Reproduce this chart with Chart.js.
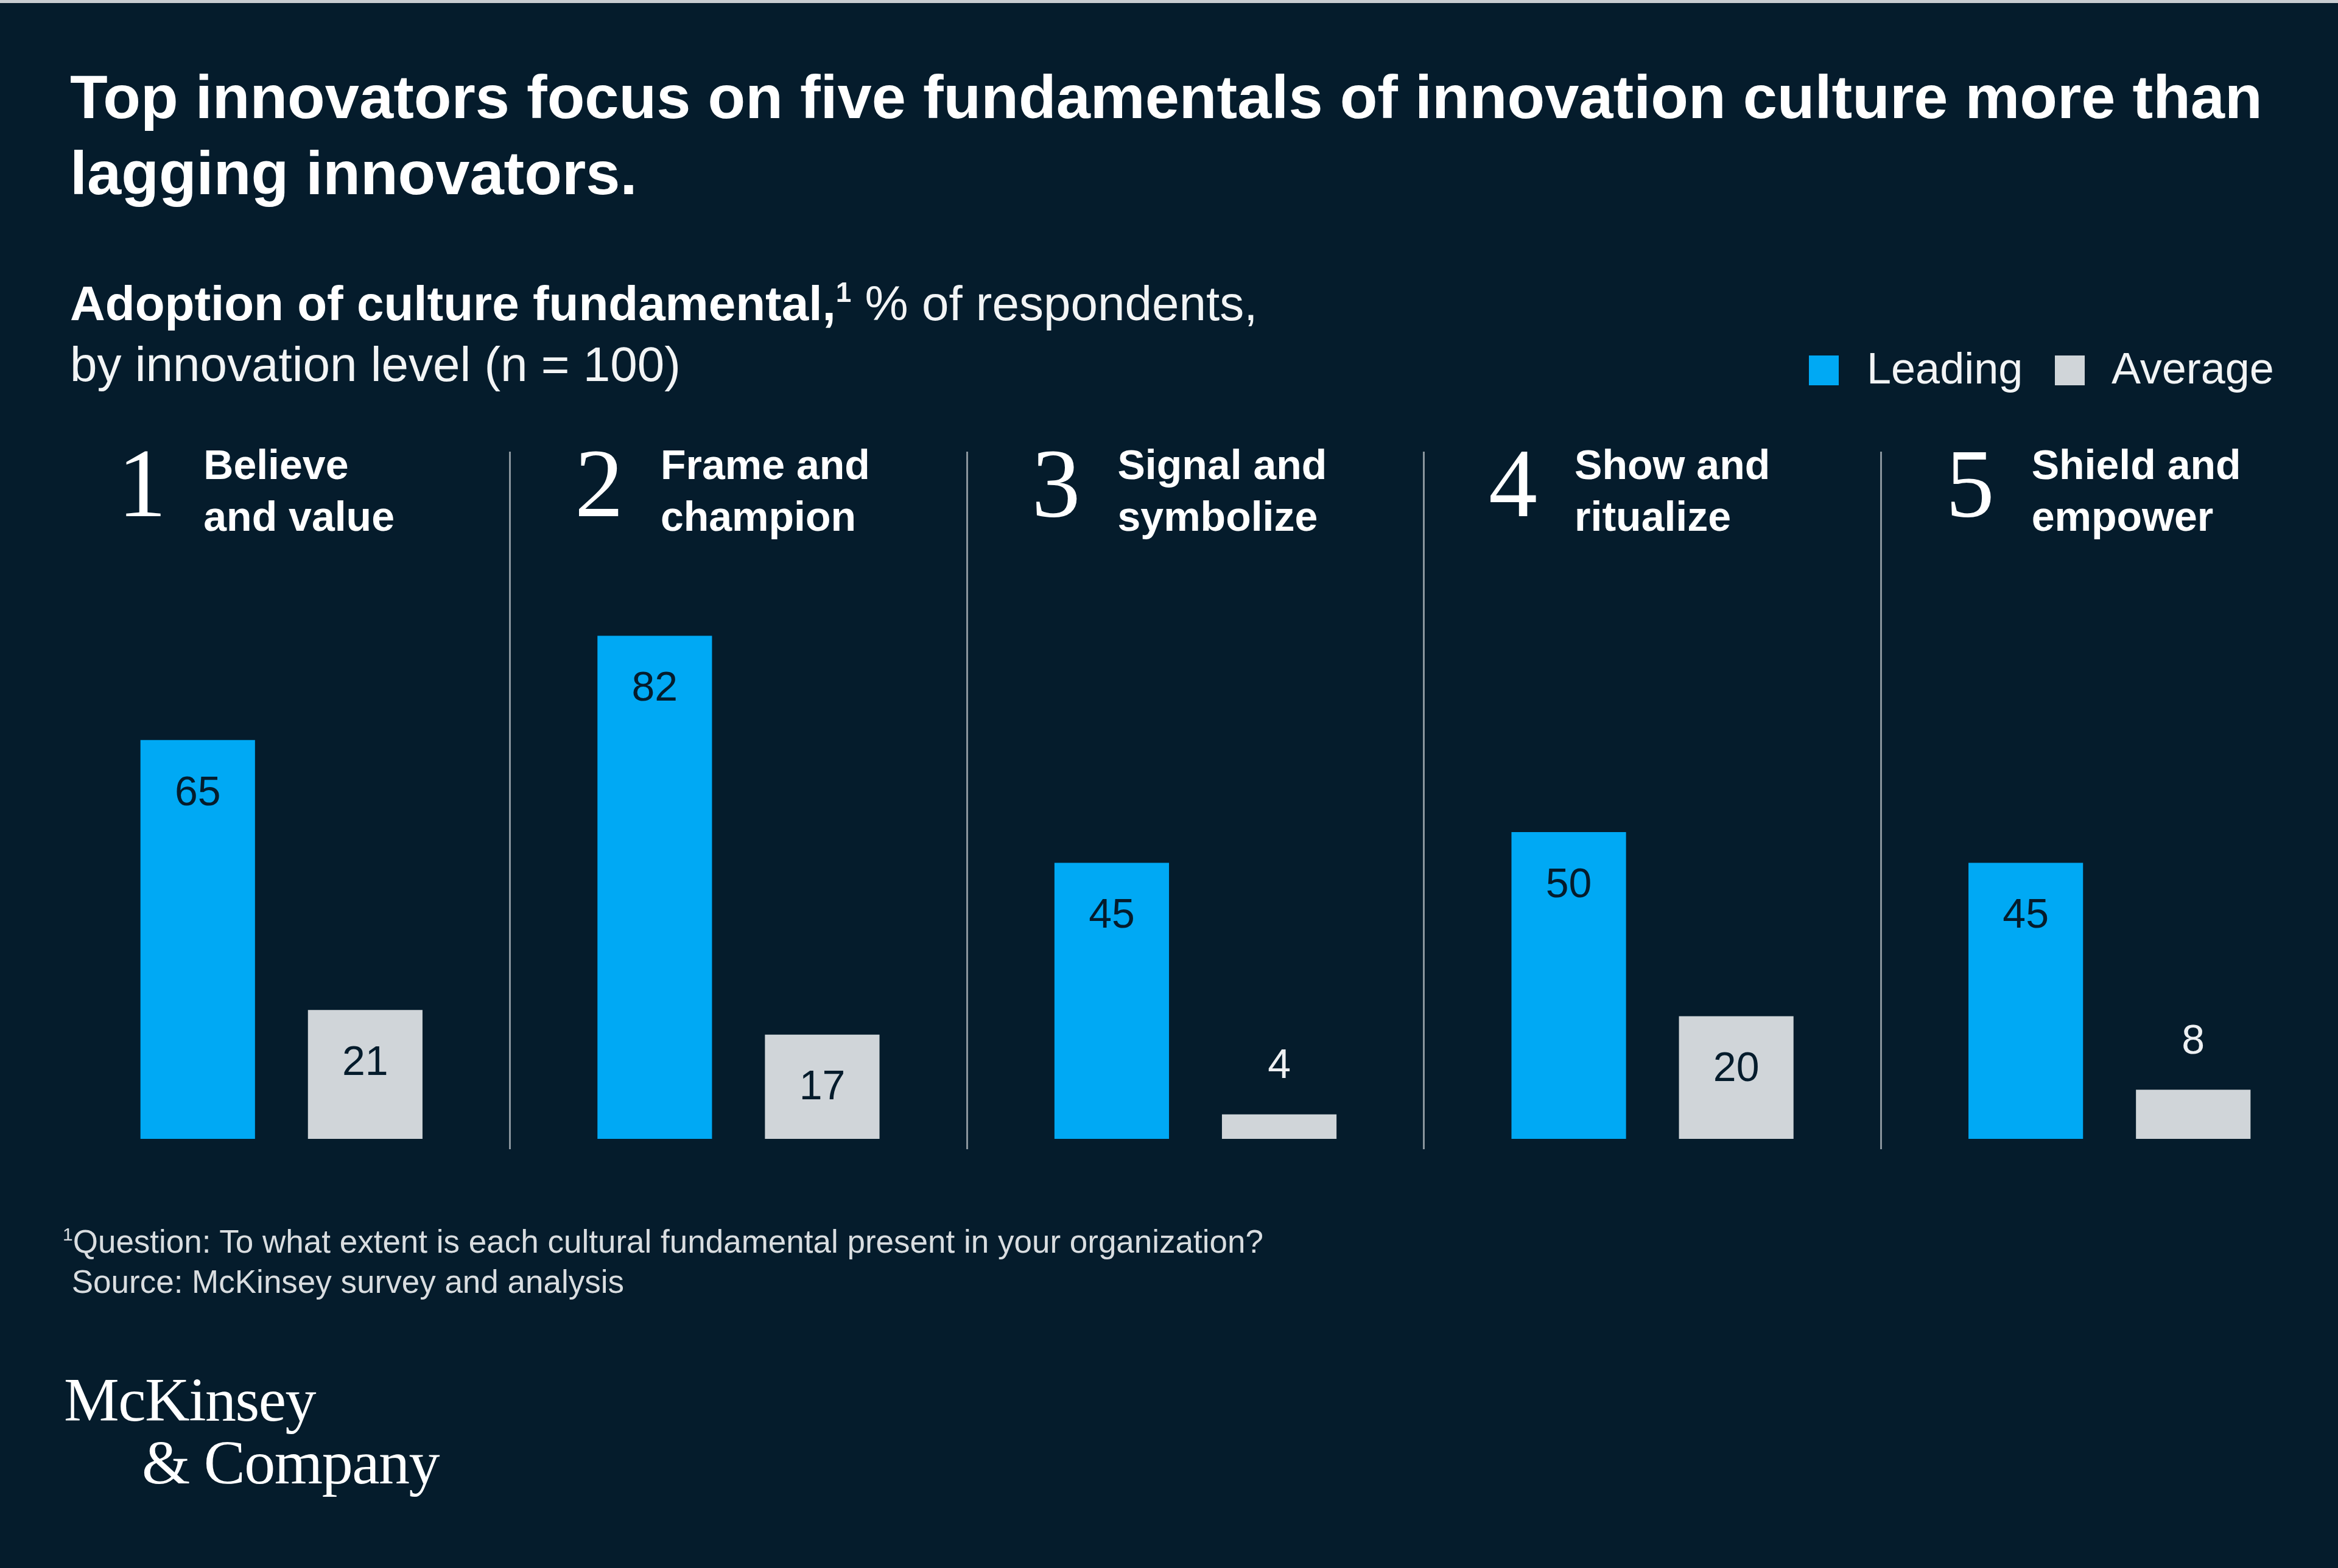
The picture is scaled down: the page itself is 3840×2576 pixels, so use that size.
<!DOCTYPE html>
<html>
<head>
<meta charset="utf-8">
<script src="https://cdn.jsdelivr.net/npm/chart.js@4.4.1/dist/chart.umd.min.js"></script>
<style>
html,body{margin:0;padding:0;}
body{width:3840px;height:2576px;background:#051C2C;position:relative;overflow:hidden;font-family:"Liberation Sans",Arial,sans-serif;color:#ffffff;}
#topline{position:absolute;left:0;top:0;width:3840px;height:5px;background:#c9cdd1;}
#c{position:absolute;left:0;top:0;}
.abs{position:absolute;white-space:nowrap;}
#title{left:115px;top:97px;font-weight:700;font-size:101px;line-height:125px;}
#sub{left:115px;top:449px;font-size:80px;line-height:100px;color:#f2f4f5;}
#sub b{font-weight:700;color:#fff;}
#sub sup{font-size:46px;font-weight:700;vertical-align:0;position:relative;top:-30px;line-height:0;}
.lgbox{position:absolute;width:49px;height:49px;top:584px;}
.lgtext{position:absolute;top:565px;font-size:72px;line-height:80px;color:#f2f4f5;}
#foot{left:103px;top:2007px;font-size:53px;line-height:66px;color:#d9dde0;}
#foot sup{font-size:30px;vertical-align:0;position:relative;top:-20px;line-height:0;}
#logo{left:105px;top:2248px;font-family:"Liberation Serif","Times New Roman",serif;font-size:102px;line-height:103px;letter-spacing:-1.5px;color:#fff;}
</style>
</head>
<body>
<div id="topline"></div>
<canvas id="c" width="3840" height="2576"></canvas>
<div id="title" class="abs">Top innovators focus on five fundamentals of innovation culture more than<br>lagging innovators.</div>
<div id="sub" class="abs"><b>Adoption of culture fundamental,</b><sup>1</sup> % of respondents,<br>by innovation level (n = 100)</div>
<div id="legend"></div>
<div id="foot" class="abs"><sup>1</sup>Question: To what extent is each cultural fundamental present in your organization?<br>&nbsp;Source: McKinsey survey and analysis</div>
<div id="logo" class="abs">McKinsey<br><span style="padding-left:128px">&amp; Company</span></div>
<script>
// ---- data ----
const fundamentalNumbers = ['1', '2', '3', '4', '5'];
const fundamentalLines = [
  ['Believe', 'and value'],
  ['Frame and', 'champion'],
  ['Signal and', 'symbolize'],
  ['Show and', 'ritualize'],
  ['Shield and', 'empower']
];
const categories = fundamentalLines.map(l => l.join(' '));
const seriesNames = ['Leading', 'Average'];
const leadingValues = [65, 82, 45, 50, 45];
const averageValues = [21, 17, 4, 20, 8];

// ---- styles ----
const BG = '#051C2C';
const LEADING_COLOR = '#00A9F4';
const AVERAGE_COLOR = '#D0D5D9';
const DIVIDER_COLOR = '#8A959D';

// HTML legend
(function(){
  const lg = document.getElementById('legend');
  const items = [
    {name: seriesNames[0], color: LEADING_COLOR, box: 2971, text: 3066},
    {name: seriesNames[1], color: AVERAGE_COLOR, box: 3375, text: 3468}
  ];
  items.forEach(it => {
    const b = document.createElement('div');
    b.className = 'lgbox'; b.style.left = it.box + 'px'; b.style.background = it.color;
    lg.appendChild(b);
    const t = document.createElement('div');
    t.className = 'lgtext'; t.style.left = it.text + 'px'; t.textContent = it.name;
    lg.appendChild(t);
  });
})();

const headerPlugin = {
  id: 'headers',
  afterDraw(chart) {
    const ctx = chart.ctx;
    const xs = chart.scales.x;
    const top = chart.chartArea.top;
    ctx.save();
    ctx.fillStyle = '#ffffff';
    categories.forEach((c, i) => {
      const cx = xs.getPixelForValue(i);
      ctx.font = '160px "Liberation Serif", "Times New Roman", serif';
      ctx.textAlign = 'center';
      ctx.textBaseline = 'alphabetic';
      ctx.fillText(fundamentalNumbers[i], cx - 229, top + 106);
      ctx.font = 'bold 68px "Liberation Sans", Arial, sans-serif';
      ctx.textAlign = 'left';
      ctx.fillText(fundamentalLines[i][0], cx - 128, top + 45);
      ctx.fillText(fundamentalLines[i][1], cx - 128, top + 130);
    });
    ctx.restore();
  }
};

const valueLabelPlugin = {
  id: 'valueLabels',
  afterDatasetsDraw(chart) {
    const ctx = chart.ctx;
    ctx.save();
    ctx.font = '68px "Liberation Sans", Arial, sans-serif';
    ctx.textAlign = 'center';
    ctx.textBaseline = 'middle';
    chart.data.datasets.forEach((ds, di) => {
      const meta = chart.getDatasetMeta(di);
      meta.data.forEach((bar, i) => {
        const v = ds.data[i];
        const h = bar.base - bar.y;
        if (h > 150) {
          ctx.fillStyle = BG;
          ctx.fillText(String(v), bar.x, bar.y + 88);
        } else {
          ctx.fillStyle = '#eef0f2';
          ctx.fillText(String(v), bar.x, bar.y - 78);
        }
      });
    });
    ctx.restore();
  }
};

new Chart(document.getElementById('c'), {
  type: 'bar',
  data: {
    labels: categories,
    datasets: [
      {label: seriesNames[0], data: leadingValues, backgroundColor: LEADING_COLOR, categoryPercentage: 0.733, barPercentage: 0.684},
      {label: seriesNames[1], data: averageValues, backgroundColor: AVERAGE_COLOR, categoryPercentage: 0.733, barPercentage: 0.684}
    ]
  },
  options: {
    responsive: false,
    animation: false,
    devicePixelRatio: 1,
    layout: {padding: {left: 87, right: 0, top: 742, bottom: 688}},
    plugins: {legend: {display: false}, tooltip: {enabled: false}},
    scales: {
      x: {
        grid: {
          offset: true,
          lineWidth: 3,
          tickLength: 17,
          drawTicks: true,
          color: (c) => (c.type === 'tick' && c.index > 0) ? DIVIDER_COLOR : 'rgba(0,0,0,0)'
        },
        border: {display: false},
        ticks: {display: false}
      },
      y: {display: false, min: 0, max: 112}
    }
  },
  plugins: [headerPlugin, valueLabelPlugin]
});
</script>
</body>
</html>
